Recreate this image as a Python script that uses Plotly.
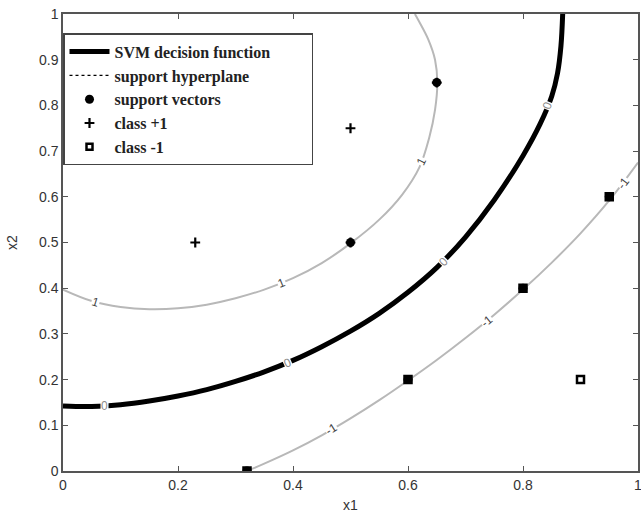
import plotly.graph_objects as go

# ---- data ----
zero_x = [0.0, 0.05, 0.1, 0.15, 0.2, 0.25, 0.3, 0.35, 0.4, 0.45, 0.5, 0.55, 0.6, 0.65, 0.7, 0.75, 0.8, 0.83, 0.85, 0.86, 0.866, 0.869]
zero_y = [0.142, 0.141, 0.145, 0.153, 0.164, 0.178, 0.196, 0.217, 0.242, 0.272, 0.306, 0.345, 0.391, 0.445, 0.512, 0.593, 0.69, 0.76, 0.82, 0.87, 0.93, 1.0]

plus_x = [0.0, 0.05, 0.1, 0.15, 0.2, 0.25, 0.3, 0.35, 0.4, 0.45, 0.5, 0.55, 0.59, 0.62, 0.637, 0.647, 0.651, 0.647, 0.635, 0.62, 0.612]
plus_y = [0.397, 0.372, 0.359, 0.354, 0.356, 0.364, 0.378, 0.397, 0.422, 0.455, 0.498, 0.55, 0.605, 0.665, 0.73, 0.79, 0.85, 0.9, 0.945, 0.982, 1.0]

minus_x = [0.32, 0.35, 0.4, 0.45, 0.5, 0.55, 0.6, 0.65, 0.7, 0.75, 0.8, 0.85, 0.9, 0.95, 1.0]
minus_y = [0.0, 0.016, 0.045, 0.078, 0.115, 0.155, 0.198, 0.243, 0.291, 0.342, 0.397, 0.456, 0.52, 0.592, 0.675]

sv_x = [0.5, 0.65, 0.32, 0.6, 0.8, 0.95]
sv_y = [0.5, 0.85, 0.0, 0.2, 0.4, 0.6]

cls_pos_x = [0.23, 0.5, 0.5, 0.65]
cls_pos_y = [0.5, 0.75, 0.5, 0.85]

cls_neg_x = [0.32, 0.6, 0.8, 0.95, 0.9]
cls_neg_y = [0.0, 0.2, 0.4, 0.6, 0.2]

# contour labels
lab_text = ["0", "0", "0", "0", "1", "1", "1", "-1", "-1", "-1"]
lab_x = [0.073, 0.39, 0.661, 0.843, 0.056, 0.38, 0.624, 0.467, 0.737, 0.975]
lab_y = [0.142, 0.237, 0.458, 0.80, 0.370, 0.412, 0.678, 0.091, 0.329, 0.630]
lab_ang = [0, -24, -46, -68, 17, -22, -64, -32, -40, -53]

xtick_vals = [0, 0.2, 0.4, 0.6, 0.8, 1]
xtick_text = ["0", "0.2", "0.4", "0.6", "0.8", "1"]
ytick_vals = [0, 0.1, 0.2, 0.3, 0.4, 0.5, 0.6, 0.7, 0.8, 0.9, 1]
ytick_text = ["0", "0.1", "0.2", "0.3", "0.4", "0.5", "0.6", "0.7", "0.8", "0.9", "1"]

fig = go.Figure()

gray = "#b8b8b8"
fig.add_trace(go.Scatter(x=plus_x, y=plus_y, mode="lines", line=dict(color=gray, width=2, shape="spline"),
                         showlegend=False, hoverinfo="skip"))
fig.add_trace(go.Scatter(x=minus_x, y=minus_y, mode="lines", line=dict(color=gray, width=2, shape="spline"),
                         showlegend=False, hoverinfo="skip"))

pad = "&nbsp;" * 9
fig.add_trace(go.Scatter(x=zero_x, y=zero_y, mode="lines", name="<b>SVM decision function</b>" + pad, legendrank=1,
                         line=dict(color="black", width=5, shape="spline")))
fig.add_trace(go.Scatter(x=[None], y=[None], mode="lines", name="<b>support hyperplane</b>", legendrank=2,
                         line=dict(color="black", width=1.2, dash="dot")))

# open squares under support-vector dots
fig.add_trace(go.Scatter(x=cls_neg_x, y=cls_neg_y, mode="markers", showlegend=False,
                         marker=dict(symbol="square-open", size=7, color="black", line=dict(width=2.5, color="black"))))
fig.add_trace(go.Scatter(x=cls_pos_x, y=cls_pos_y, mode="markers", name="<b>class +1</b>", legendrank=4,
                         marker=dict(symbol="cross-thin", size=7, color="black", line=dict(width=2.2, color="black"))))
fig.add_trace(go.Scatter(x=sv_x, y=sv_y, mode="markers", name="<b>support vectors</b>", legendrank=3,
                         marker=dict(symbol="circle", size=9, color="black")))
fig.add_trace(go.Scatter(x=[None], y=[None], mode="markers", name="<b>class -1</b>", legendrank=5,
                         marker=dict(symbol="square-open", size=6, color="black", line=dict(width=2.5, color="black"))))

for t, x, y, a in zip(lab_text, lab_x, lab_y, lab_ang):
    fig.add_annotation(x=x, y=y, text=t, showarrow=False, textangle=a,
                       font=dict(family="Liberation Sans, Arial", size=12,
                                 color="#8a8a8a" if t == "0" else "#444444"),
                       bgcolor="white", borderpad=0)

axis_common = dict(showgrid=False, zeroline=False, showline=True, linecolor="#555555", linewidth=1.5,
                   mirror="ticks", ticks="inside", ticklen=5, tickcolor="#555555", tickwidth=1,
                   automargin=False, ticklabeloverflow="allow",
                   tickfont=dict(family="Liberation Sans, Arial", size=14, color="#333333"))

fig.update_layout(
    width=641, height=516,
    margin=dict(l=63, r=3, t=14, b=45),
    paper_bgcolor="white", plot_bgcolor="white",
    xaxis=dict(range=[0, 1], tickvals=xtick_vals, ticktext=xtick_text,
               title=dict(text="x1", font=dict(family="Liberation Sans, Arial", size=14, color="#333333"), standoff=9),
               **axis_common),
    yaxis=dict(range=[0, 1], tickvals=ytick_vals, ticktext=ytick_text,
               title=dict(text="x2", font=dict(family="Liberation Sans, Arial", size=14, color="#333333"), standoff=18),
               **axis_common),
    legend=dict(x=0.0, y=0.958, xanchor="left", yanchor="top",
                bgcolor="white", bordercolor="#444444", borderwidth=1.5,
                font=dict(family="Liberation Serif, Times New Roman", size=16, color="#222222"),
                itemwidth=40, traceorder="normal"),
    showlegend=True,
)

fig.write_html("out.html", post_script="document.body.style.margin='0';",
               config={"displayModeBar": False})
